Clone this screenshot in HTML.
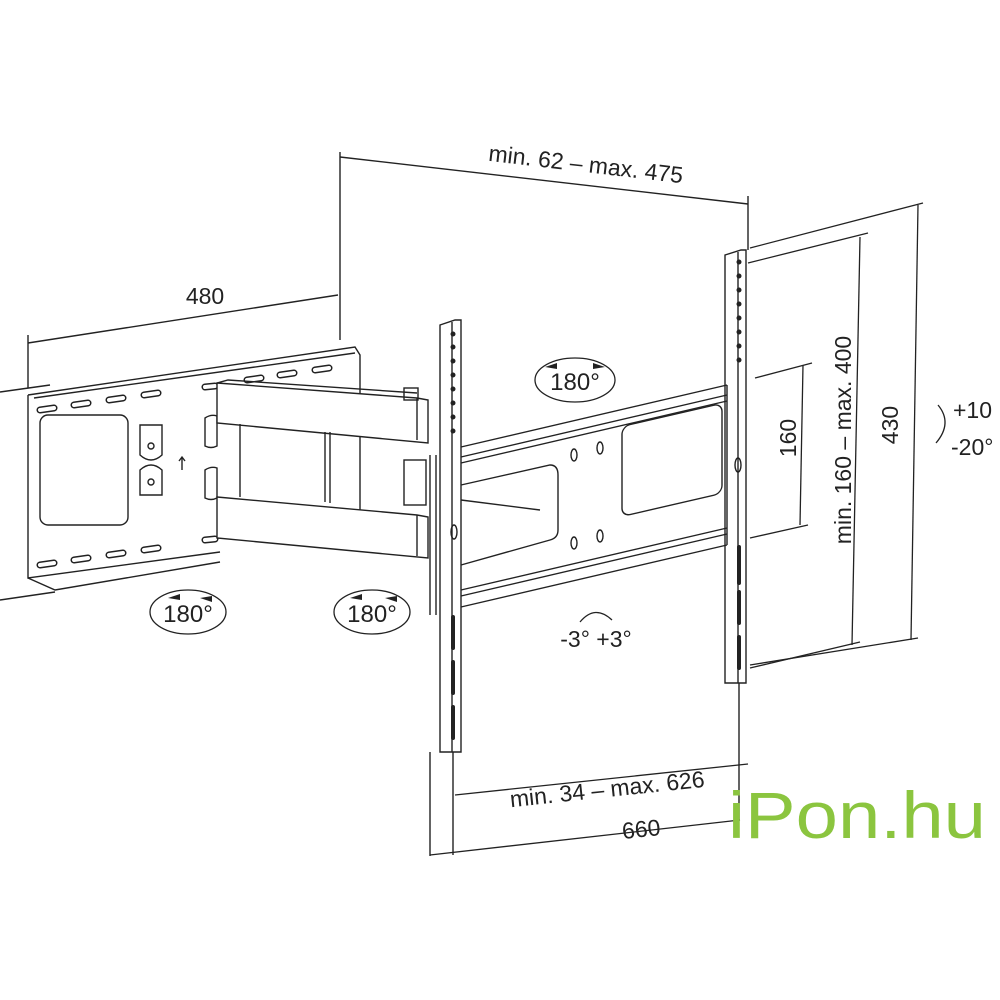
<!DOCTYPE html>
<html><head><meta charset="utf-8"><style>
html,body{margin:0;padding:0;background:#fff;}
svg{display:block}
text{font-family:"Liberation Sans",sans-serif;fill:#222;}
</style></head><body>
<svg width="1000" height="1000" viewBox="0 0 1000 1000" xmlns="http://www.w3.org/2000/svg">
<g stroke="#222" stroke-width="1.4" fill="none">
<line x1="340" y1="152" x2="340" y2="340"/>
<line x1="748" y1="196" x2="748" y2="250"/>
<line x1="340" y1="157" x2="748" y2="204"/>
<line x1="28" y1="335" x2="28" y2="388"/>
<line x1="28" y1="343" x2="338" y2="295"/>
<line x1="0" y1="392" x2="50" y2="385"/>
<line x1="0" y1="600" x2="55" y2="592"/>
<path d="M28,395 L355,347 L360,355 L360,520 M28,395 L28,578 L220,552"/>
<path d="M28,578 L55,590 L220,562"/>
<path d="M34,398 L355,353"/>
<rect x="40" y="415" width="88" height="110" rx="8"/>
</g>
<g stroke="#222" stroke-width="7" stroke-linecap="round" fill="none">
<path id="sl" d="M40,410 l14,-2 M74,405 l14,-2 M109,400 l14,-2 M144,395 l14,-2 M205,387 l10,-1 M247,380 l14,-2 M280,375 l14,-2 M315,370 l14,-2 M40,565 l14,-2 M74,560 l14,-2 M109,555 l14,-2 M144,550 l14,-2 M205,540 l10,-1"/>
</g>
<g stroke="#fff" stroke-width="4" stroke-linecap="round" fill="none">
<path d="M40,410 l14,-2 M74,405 l14,-2 M109,400 l14,-2 M144,395 l14,-2 M205,387 l10,-1 M247,380 l14,-2 M280,375 l14,-2 M315,370 l14,-2 M40,565 l14,-2 M74,560 l14,-2 M109,555 l14,-2 M144,550 l14,-2 M205,540 l10,-1"/>
</g>
<g stroke="#222" stroke-width="1.4" fill="none">
<path d="M140,425 h22 v30 q-11,10 -22,0 z"/>
<circle cx="151" cy="446" r="3"/>
<path d="M140,495 h22 v-25 q-11,-10 -22,0 z"/>
<circle cx="151" cy="482" r="3"/>
<path d="M182,470 v-12 M179,461 l3,-4 l3,4"/>
<path d="M205,418 q6,-4 12,-2 v30 q-6,3 -12,0 z"/>
<path d="M205,470 q6,-4 12,-2 v30 q-6,3 -12,0 z"/>
<path fill="#fff" d="M217,383 L417,398 L428,400 L428,443 L217,423 Z"/>
<path d="M217,383 L228,380 L417,393"/>
<line x1="417" y1="398" x2="417" y2="440"/>
<path fill="#fff" d="M217,497 L417,515 L428,517 L428,558 L217,538 Z"/>
<line x1="417" y1="515" x2="417" y2="556"/>
<path d="M240,424 L240,497 M325,432 L325,502 M330,432 L330,503"/>
<rect x="404" y="460" width="22" height="45"/>
<rect x="404" y="388" width="14" height="12"/>
<line x1="430" y1="455" x2="430" y2="615"/>
<line x1="436" y1="455" x2="436" y2="615"/>
<path d="M440,325 L455,320 L461,320 L461,752 L440,752 Z"/>
<line x1="452" y1="322" x2="452" y2="752"/>
<line x1="453" y1="752" x2="453" y2="855"/>
<path d="M725,255 L741,250 L746,250 L746,683 L725,683 Z"/>
<line x1="738" y1="252" x2="738" y2="683"/>
<line x1="739" y1="683" x2="739" y2="820"/>
<line x1="430" y1="752" x2="430" y2="856"/>
<path d="M461,447 L727,385 M461,607 L727,545 M727,385 L727,545"/>
<path d="M461,457 L727,395 M461,463 L727,401 M461,590 L727,528 M461,596 L727,534"/>
<rect x="622" y="420" width="100" height="90" rx="8" transform="skewY(-13) translate(0,150)"/>
<path d="M461,485 L550,465 Q558,465 558,475 L558,530 Q558,538 550,540 L461,565"/>
<path d="M461,500 L540,510"/>
<ellipse cx="574" cy="455" rx="3" ry="6"/><ellipse cx="600" cy="448" rx="3" ry="6"/>
<ellipse cx="574" cy="543" rx="3" ry="6"/><ellipse cx="600" cy="536" rx="3" ry="6"/>
<ellipse cx="454" cy="532" rx="3" ry="7"/>
<ellipse cx="738" cy="465" rx="3" ry="7"/>
</g>
<g fill="#222">
<circle cx="453" cy="334" r="2.5"/><circle cx="453" cy="347" r="2.5"/><circle cx="453" cy="361" r="2.5"/><circle cx="453" cy="375" r="2.5"/><circle cx="453" cy="389" r="2.5"/><circle cx="453" cy="403" r="2.5"/><circle cx="453" cy="417" r="2.5"/><circle cx="453" cy="431" r="2.5"/>
<circle cx="739" cy="262" r="2.5"/><circle cx="739" cy="276" r="2.5"/><circle cx="739" cy="290" r="2.5"/><circle cx="739" cy="304" r="2.5"/><circle cx="739" cy="318" r="2.5"/><circle cx="739" cy="332" r="2.5"/><circle cx="739" cy="346" r="2.5"/><circle cx="739" cy="360" r="2.5"/>
<rect x="451" y="615" width="4" height="35" rx="2"/><rect x="451" y="660" width="4" height="35" rx="2"/><rect x="451" y="705" width="4" height="35" rx="2"/>
<rect x="737" y="545" width="4" height="40" rx="2"/><rect x="737" y="590" width="4" height="35" rx="2"/><rect x="737" y="635" width="4" height="35" rx="2"/>
</g>
<g stroke="#222" stroke-width="1.3" fill="none">
<line x1="750" y1="248" x2="923" y2="203"/>
<line x1="918" y1="205" x2="911" y2="640"/>
<line x1="750" y1="665" x2="918" y2="638"/>
<line x1="748" y1="263" x2="868" y2="233"/>
<line x1="860" y1="237" x2="852" y2="645"/>
<line x1="750" y1="668" x2="860" y2="642"/>
<line x1="755" y1="378" x2="812" y2="363"/>
<line x1="803" y1="365" x2="800" y2="525"/>
<line x1="750" y1="538" x2="808" y2="525"/>
<line x1="455" y1="795" x2="748" y2="764"/>
<line x1="430" y1="855" x2="740" y2="820"/>
<ellipse cx="575" cy="380" rx="40" ry="22"/>
<ellipse cx="188" cy="612" rx="38" ry="22"/>
<ellipse cx="372" cy="612" rx="38" ry="22"/>
<path d="M580,622 q15,-18 32,-2"/>
<path d="M938,405 q15,18 -2,38"/>
</g>
<g fill="#222">
<path d="M545,367 l12,-4 v6z M605,367 l-12,-4 v6z"/>
<path d="M168,598 l12,-4 v6z M200,598 l12,4 v-6z"/>
<path d="M350,598 l12,-4 v6z M385,598 l12,4 v-6z"/>
</g>
<g font-size="23">
<text x="585" y="172" text-anchor="middle" transform="rotate(6.6 585 172)">min. 62 – max. 475</text>
<text x="205" y="304" text-anchor="middle">480</text>
<text x="575" y="390" text-anchor="middle" font-size="24">180°</text>
<text x="188" y="622" text-anchor="middle" font-size="24">180°</text>
<text x="372" y="622" text-anchor="middle" font-size="24">180°</text>
<text x="596" y="647" text-anchor="middle">-3° +3°</text>
<text x="608" y="797" text-anchor="middle" transform="rotate(-6 608 797)">min. 34 – max. 626</text>
<text x="642" y="837" text-anchor="middle" transform="rotate(-6 642 837)">660</text>
<text x="0" y="0" text-anchor="middle" transform="translate(796,438) rotate(-90)">160</text>
<text x="0" y="0" text-anchor="middle" transform="translate(851,440) rotate(-90)">min. 160 – max. 400</text>
<text x="0" y="0" text-anchor="middle" transform="translate(898,425) rotate(-90)">430</text>
<text x="953" y="418">+10</text>
<text x="951" y="455">-20°</text>
</g>
<text x="728" y="838" font-size="66" style="fill:#8bc53f;" textLength="258" lengthAdjust="spacingAndGlyphs">iPon.hu</text>
</svg>
</body></html>
